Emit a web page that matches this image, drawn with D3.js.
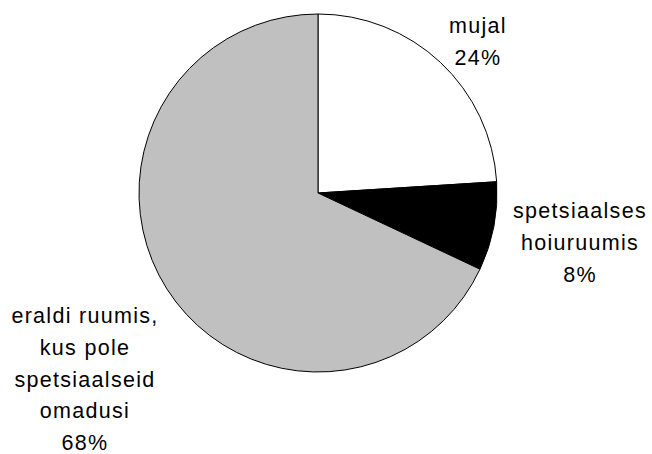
<!DOCTYPE html>
<html>
<head>
<meta charset="utf-8">
<script src="https://cdn.jsdelivr.net/npm/d3@7"></script>
<style>
  body { margin: 0; background: #fff; }
  svg { display: block; }
</style>
</head>
<body>
<div id="chart"></div>
<script>
var categories = ["mujal", "spetsiaalses hoiuruumis", "eraldi ruumis, kus pole spetsiaalseid omadusi"];
var values = [24, 8, 68];
var colors = ["#ffffff", "#000000", "#c0c0c0"];
// label lines per slice (last line is the percentage)
var labelLines = [
  ["mujal", "24%"],
  ["spetsiaalses", "hoiuruumis", "8%"],
  ["eraldi ruumis,", "kus pole", "spetsiaalseid", "omadusi", "68%"]
];

var width = 652, height = 454;
var cx = 318, cy = 193, radius = 179;

var svg = d3.select("#chart").append("svg")
  .attr("width", width)
  .attr("height", height);

var pie = d3.pie().sort(null).value(function(d) { return d; });
var arc = d3.arc().innerRadius(0).outerRadius(radius);

var g = svg.append("g").attr("transform", "translate(" + cx + "," + cy + ")");

g.selectAll("path")
  .data(pie(values))
  .enter().append("path")
  .attr("d", arc)
  .style("fill", function(d, i) { return colors[i]; })
  .style("stroke", "#000")
  .style("stroke-width", 1);

// label anchor spots (center x, first baseline y)
var labelPos = [[478, 33], [580, 218], [85, 323]];
var lineH = 31.8;

labelLines.forEach(function(lines, i) {
  var t = svg.append("text")
    .attr("text-anchor", "middle")
    .attr("font-family", "Liberation Sans, Arial, sans-serif")
    .attr("font-size", "21.5px")
    .attr("letter-spacing", "1.3px")
    .attr("fill", "#000");
  lines.forEach(function(l, j) {
    t.append("tspan")
      .attr("x", labelPos[i][0])
      .attr("y", labelPos[i][1] + j * lineH)
      .text(l);
  });
});
</script>
</body>
</html>
